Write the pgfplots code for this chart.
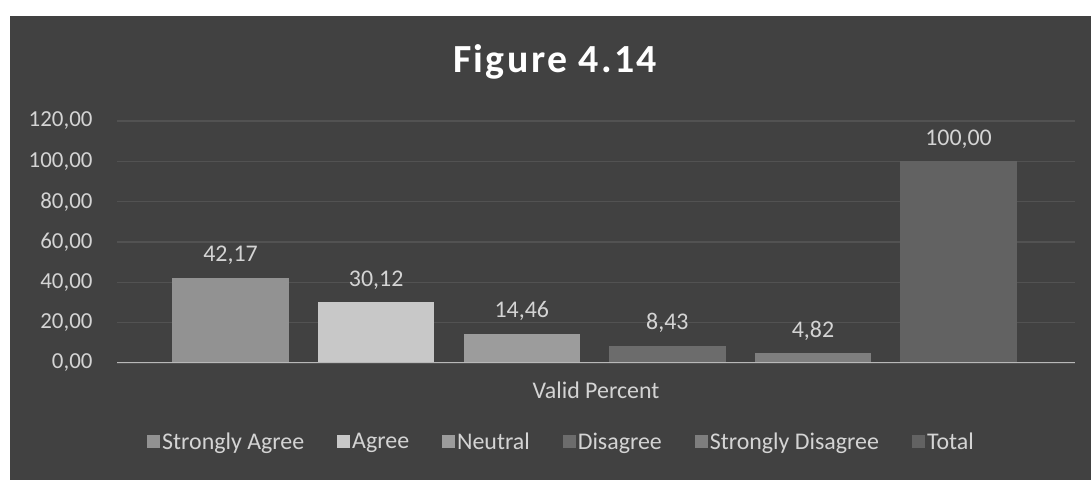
\documentclass[border=0pt]{standalone}
\usepackage{pgfplots}
\pgfplotsset{compat=1.18}
\usepackage{fontspec}
\setmainfont{Carlito}
\newfontfamily\titlefont[LetterSpace=6]{Carlito}

\definecolor{panel}{HTML}{414141}
\definecolor{gridc}{HTML}{525252}
\definecolor{txt}{HTML}{D4D4D4}
\definecolor{cSA}{HTML}{929292}
\definecolor{cA}{HTML}{C8C8C8}
\definecolor{cN}{HTML}{9C9C9C}
\definecolor{cD}{HTML}{6C6C6C}
\definecolor{cSD}{HTML}{7E7E7E}
\definecolor{cT}{HTML}{626262}

\begin{document}
\begin{tikzpicture}[x=1bp,y=1bp]
  % page and chart panel
  \fill[white] (0,0) rectangle (1091,480);
  \fill[panel] (10,0) rectangle (1091,464);
  \node[text=white, font=\titlefont\fontsize{40}{46}\selectfont\bfseries] at (555,418) {Figure 4.14};
  \begin{axis}[
    at={(117bp,117bp)}, anchor=south west,
    scale only axis, width=958bp, height=242bp,
    xmin=-0.78, xmax=5.80, ymin=0, ymax=120,
    ybar, bar width=0.8,
    axis line style={draw=none},
    ytick={0,20,...,120},
    xtick=\empty,
    ymajorgrids, grid style={gridc, line width=1.2pt},
    major tick length=0pt,
    yticklabel style={text=txt, font=\fontsize{23}{26}\selectfont, xshift=-21bp},
    /pgf/number format/.cd, use comma, fixed, fixed zerofill, precision=2, assume math mode=true,
    /pgfplots/.cd,
    xlabel={Valid Percent},
    xlabel style={text=txt, font=\fontsize{24}{28}\selectfont, at={(axis description cs:0.5,0)}, anchor=base, inner sep=0pt, yshift=-36bp},
    nodes near coords,
    every node near coord/.append style={text=txt, font=\fontsize{24}{28}\selectfont, anchor=base, inner sep=0pt, yshift=16bp},
    legend columns=6,
    legend style={at={(0.464,-0.326)}, anchor=center, draw=none, fill=none,
      text=txt, font=\fontsize{24}{28}\selectfont,
      nodes={inner sep=2bp},
      /tikz/every even column/.append style={column sep=31bp}},
    legend image code/.code={\fill[#1] (0bp,-6.5bp) rectangle (13bp,6.5bp);},
  ]
    \addplot[fill=cSA, draw=none, bar shift=0pt] coordinates {(0,42.17)};
    \addlegendentry{Strongly Agree}
    \addplot[fill=cA, draw=none, bar shift=0pt] coordinates {(1,30.12)};
    \addlegendentry{Agree}
    \addplot[fill=cN, draw=none, bar shift=0pt] coordinates {(2,14.46)};
    \addlegendentry{Neutral}
    \addplot[fill=cD, draw=none, bar shift=0pt] coordinates {(3,8.43)};
    \addlegendentry{Disagree}
    \addplot[fill=cSD, draw=none, bar shift=0pt] coordinates {(4,4.82)};
    \addlegendentry{Strongly Disagree}
    \addplot[fill=cT, draw=none, bar shift=0pt] coordinates {(5,100)};
    \addlegendentry{Total}
    % baseline
    \draw[color=black!28, line width=2.5pt] (rel axis cs:0,0) -- (rel axis cs:1,0);
  \end{axis}
\end{tikzpicture}
\end{document}
